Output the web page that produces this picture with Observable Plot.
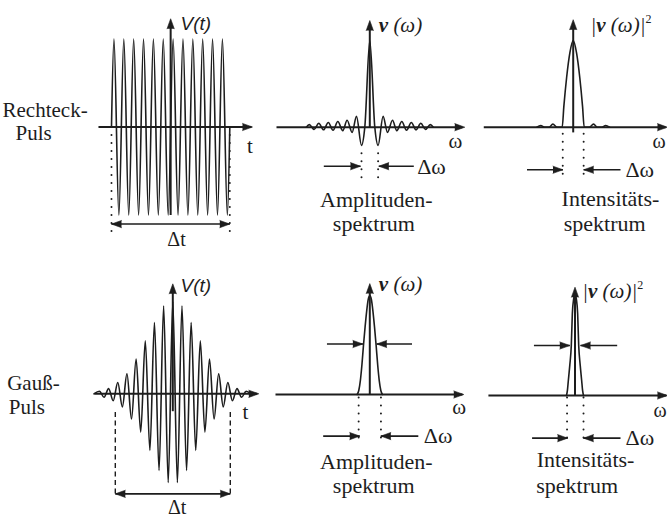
<!DOCTYPE html>
<html><head><meta charset="utf-8">
<script src="https://cdn.jsdelivr.net/npm/d3@7"></script>
<script src="https://cdn.jsdelivr.net/npm/@observablehq/plot@0.6"></script>
<style>
html,body{margin:0;padding:0;background:#fff;}
#chart{position:relative;width:667px;height:518px;overflow:hidden;background:#fff;}
#chart svg{position:absolute;left:0;top:0;}
#chart svg text.serif{font-family:"Liberation Serif","DejaVu Serif",serif;}
#chart svg text.sans{font-family:"Liberation Sans","DejaVu Sans",sans-serif;}
</style></head><body><div id="chart"></div>
<script>
// ---- data ----
// Rechteck-Puls: extrema of the carrier (t in carrier periods), amplitude
const rectT = [-6, -5.75, -5.25, -4.75, -4.25, -3.75, -3.25, -2.75, -2.25, -1.75, -1.25, -0.75, -0.25, 0.25, 0.75, 1.25, 1.75, 2.25, 2.75, 3.25, 3.75, 4.25, 4.75, 5.25, 5.75, 6];
const rectV = [0, 1, -1, 1, -1, 1, -1, 1, -1, 1, -1, 1, -1, 1, -1, 1, -1, 1, -1, 1, -1, 1, -1, 1, -1, 0];
// Gauß-Puls: extrema of the carrier
const gaussT = [-8.6, -8, -7.5, -7, -6.5, -6, -5.5, -5, -4.5, -4, -3.5, -3, -2.5, -2, -1.5, -1, -0.5, 0, 0.5, 1, 1.5, 2, 2.5, 3, 3.5, 4, 4.5, 5, 5.5, 6, 6.5, 7, 7.5, 8, 8.5];
const gaussV = [0, 0.03, -0.04, 0.06, -0.08, 0.13, -0.15, 0.23, -0.29, 0.40, -0.44, 0.61, -0.65, 0.82, -0.88, 1.01, -1.02, 1.06, -1.02, 1.01, -0.88, 0.82, -0.65, 0.61, -0.44, 0.40, -0.29, 0.23, -0.15, 0.13, -0.08, 0.06, -0.04, 0.03, 0];
// Amplitudenspektrum of the rectangular pulse (sinc-like)
const sincW = [-12.7, -12.1, -11.15, -10.2, -9.25, -8.3, -7.35, -6.4, -5.4, -4.54, -3.54, -2.66, -1.66, -1, 0, 1, 1.66, 2.66, 3.54, 4.54, 5.4, 6.4, 7.35, 8.3, 9.25, 10.2, 11.15, 12.1, 12.7];
const sincV = [0, 0.03, -0.025, 0.045, -0.03, 0.055, -0.035, 0.065, -0.04, 0.08, -0.06, 0.125, -0.21, 0, 1, 0, -0.21, 0.125, -0.06, 0.08, -0.04, 0.065, -0.035, 0.055, -0.03, 0.045, -0.025, 0.03, 0];
// Intensitätsspektrum of the rectangular pulse
const sinc2W = [-3.3, -2.95, -2.6, -2.2, -1.85, -1.45, -1, -0.85, -0.6, -0.3, 0, 0.3, 0.6, 0.85, 1, 1.45, 1.85, 2.2, 2.6, 2.95, 3.3];
const sinc2V = [0, 0.02, 0, 0, 0.035, 0, 0, 0.24, 0.57, 0.86, 1, 0.86, 0.57, 0.24, 0, 0, 0.035, 0, 0, 0.02, 0];
// Amplitudenspektrum of the Gaussian pulse
const gspecW = [-2, -1.75, -1.5, -1.25, -1, -0.75, -0.5, -0.25, 0, 0.25, 0.5, 0.75, 1, 1.25, 1.5, 1.75, 2];
const gspecV = [0, 0.04, 0.14, 0.3, 0.5, 0.68, 0.84, 0.96, 1, 0.96, 0.84, 0.68, 0.5, 0.3, 0.14, 0.04, 0];
// Intensitätsspektrum of the Gaussian pulse
const gintW = [-2.3, -2.05, -1.8, -1.4, -1, -0.72, -0.35, 0, 0.35, 0.72, 1, 1.4, 1.8, 2.05, 2.3];
const gintV = [0, 0.05, 0.147, 0.3, 0.49, 0.8, 0.95, 1, 0.95, 0.8, 0.49, 0.3, 0.147, 0.05, 0];

const rowLabels = [["Rechteck-", "Puls"], ["Gauß-", "Puls"]];
const spectrumLabels = [["Amplituden-", "spektrum"], ["Intensitäts-", "spektrum"]];

// ---- helpers ----
const INK = "#1d1d1d";
const chart = document.getElementById("chart");
const zip = (xs, ys) => xs.map((x, i) => ({x, y: ys[i]}));

function seg(x1, y1, x2, y2, o = {}) {
  return Plot.link([{x1, y1, x2, y2}], {x1: "x1", y1: "y1", x2: "x2", y2: "y2", stroke: INK, strokeWidth: 1.6, ...o});
}
function head(x, y, rot, o = {}) {
  return Plot.vector([{x, y}], {x: "x", y: "y", rotate: rot, length: 10, r: 3.6, shape: "spike", anchor: "end", fill: INK, stroke: INK, strokeWidth: 0.6, ...o});
}
function label(x, y, text, o = {}) {
  const {cls = "serif", ...rest} = o;
  return Plot.text([{x, y, text}], {x: "x", y: "y", text: "text", fontSize: 22, fill: INK, className: cls, ...rest});
}
function dotted(x, y1, y2) {
  return seg(x, y1, x, y2, {strokeWidth: 2, strokeDasharray: "0,8", strokeLinecap: "round"});
}
function curve(xs, ys) {
  return Plot.line(zip(xs, ys), {x: "x", y: "y", curve: "monotone-x", stroke: INK, strokeWidth: 1.6});
}
function panel(xr, yr, marks) {
  const svg = Plot.plot({
    width: 667, height: 518, margin: 0,
    x: {domain: [0, 1], range: xr, axis: null},
    y: {domain: [0, 1], range: yr, axis: null},
    style: {background: "transparent", overflow: "visible"},
    marks
  });
  svg.querySelectorAll("g[aria-label='text']").forEach(g => {
    const cls = g.getAttribute("class") || "";
    const fam = cls.includes("sans") ? "sans" : "serif";
    g.removeAttribute("font-family");
    g.querySelectorAll("text").forEach(t => {
      t.classList.add(fam);
      if (t.textContent === "v (ω)") t.innerHTML = '<tspan font-weight="bold">v</tspan> (ω)';
      if (t.textContent === "|v (ω)|2") t.innerHTML = '|<tspan font-weight="bold">v</tspan> (ω)|<tspan dy="-9" font-size="12" font-style="normal">2</tspan>';
    });
  });
  chart.append(svg);
}
const ax = {strokeWidth: 2};

// ---- Panel 1: Rechteck-Puls, V(t) ----
panel([170.15, 180.01], [126.5, 38.5], [
  seg(-7.32, 0, 8.2, 0, ax), head(8.3, 0, 90),
  seg(0, -1, 0, 1.15, ax), head(0, 1.23, 0),
  curve(rectT, rectV),
  dotted(-6, 0, -1.21), dotted(6, 0, -1.21),
  seg(-6, -1.103, 6, -1.103), head(-6, -1.103, 270), head(6, -1.103, 90),
  label(-17.05, 0.19, rowLabels[0][0], {textAnchor: "start", fontSize: 21}),
  label(-15.74, -0.07, rowLabels[0][1], {textAnchor: "start", fontSize: 21}),
  label(1.0, 1.17, "V(t)", {textAnchor: "start", cls: "sans", fontStyle: "italic", fontSize: 19}),
  label(8.05, -0.214, "t", {fontSize: 21}),
  label(0.59, -1.278, "Δt", {fontSize: 20})
]);

// ---- Panel 4: Gauß-Puls, V(t) ----
panel([172.3, 181.47], [393.3, 306.3], [
  seg(-8.54, 0, 9.2, 0, ax), head(9.38, 0, 90),
  seg(0, -0.2, 0, 1.2, ax), head(0, 1.264, 0),
  curve(gaussT, gaussV),
  seg(-6.27, -0.21, -6.27, -1.17, {strokeWidth: 1.4, strokeDasharray: "5,3.5"}),
  seg(6.27, -0.21, 6.27, -1.17, {strokeWidth: 1.4, strokeDasharray: "5,3.5"}),
  seg(-6.27, -1.15, 6.27, -1.15), head(-6.27, -1.15, 270), head(6.27, -1.15, 90),
  label(-18.06, 0.12, rowLabels[1][0], {textAnchor: "start", fontSize: 21}),
  label(-17.88, -0.15, rowLabels[1][1], {textAnchor: "start", fontSize: 21}),
  label(0.84, 1.235, "V(t)", {textAnchor: "start", cls: "sans", fontStyle: "italic", fontSize: 19}),
  label(7.93, -0.213, "t", {fontSize: 21}),
  label(0.48, -1.303, "Δt", {fontSize: 20})
]);

// ---- Panel 2: Amplitudenspektrum (Rechteck) ----
panel([369.3, 374.3], [126.7, 40], [
  seg(-18.66, 0, 18.5, 0, ax), head(19.0, 0, 90),
  seg(0, 0, 0, 1.15, ax), head(0, 1.23, 0),
  curve(sincW, sincV),
  dotted(-1.66, -0.3, -0.58), dotted(1.66, -0.3, -0.58),
  seg(-9.2, -0.45, -1.86, -0.45), head(-1.86, -0.45, 90),
  seg(8.8, -0.45, 1.8, -0.45), head(1.8, -0.45, 270),
  label(1.8, 1.17, "v (ω)", {textAnchor: "start", fontStyle: "italic", fontSize: 21}),
  label(17.14, -0.168, "ω", {fontSize: 21}),
  label(9.48, -0.461, "Δω", {textAnchor: "start", fontSize: 22}),
  label(1.3, -0.836, spectrumLabels[0][0], {fontSize: 22}),
  label(0.8, -1.12, spectrumLabels[0][1], {fontSize: 22})
]);

// ---- Panel 3: Intensitätsspektrum (Rechteck) ----
panel([572.7, 583.7], [126.7, 40], [
  seg(-8.13, 0, 8.4, 0, ax), head(8.57, 0, 90),
  seg(0, -0.06, 0, 1.15, ax), head(0, 1.24, 0),
  curve(sinc2W, sinc2V),
  dotted(-0.95, -0.075, -0.59), dotted(0.95, -0.075, -0.59),
  seg(-4.2, -0.491, -0.93, -0.491), head(-0.93, -0.491, 90),
  seg(4.3, -0.491, 0.95, -0.491), head(0.95, -0.491, 270),
  label(1.57, 1.178, "|v (ω)|2", {textAnchor: "start", fontStyle: "italic", fontSize: 21}),
  label(7.8, -0.168, "ω", {fontSize: 20}),
  label(4.75, -0.491, "Δω", {textAnchor: "start", fontSize: 22}),
  label(3.39, -0.826, spectrumLabels[1][0], {fontSize: 22}),
  label(2.86, -1.12, spectrumLabels[1][1], {fontSize: 22})
]);

// ---- Panel 5: Amplitudenspektrum (Gauß) ----
panel([369.3, 375.6], [394, 295], [
  seg(-14.97, 0, 14.7, 0, ax), head(14.92, 0, 90),
  seg(0, 0, 0, 1.05, ax), head(0, 1.12, 0),
  curve(gspecW, gspecV),
  seg(-6.8, 0.51, -1.1, 0.51), head(-1.1, 0.51, 90),
  seg(6.7, 0.51, 1.1, 0.51), head(1.1, 0.51, 270),
  dotted(-1.77, -0.03, -0.5), dotted(1.77, -0.03, -0.5),
  seg(-7.4, -0.42, -1.6, -0.42), head(-1.6, -0.42, 90),
  seg(7.7, -0.42, 1.75, -0.42), head(1.75, -0.42, 270),
  label(1.43, 1.115, "v (ω)", {textAnchor: "start", fontStyle: "italic", fontSize: 21}),
  label(14.2, -0.124, "ω", {fontSize: 21}),
  label(8.57, -0.422, "Δω", {textAnchor: "start", fontSize: 22}),
  label(1.03, -0.68, spectrumLabels[0][0], {fontSize: 22}),
  label(0.63, -0.925, spectrumLabels[0][1], {fontSize: 22})
]);

// ---- Panel 6: Intensitätsspektrum (Gauß) ----
panel([574.5, 578.2], [395, 293], [
  seg(-23.4, 0, 24.7, 0, ax), head(25, 0, 90),
  seg(0, 0, 0, 1.0, ax), head(0, 1.062, 0),
  curve(gintW, gintV),
  seg(-11.1, 0.49, -1.4, 0.49), head(-1.4, 0.49, 90),
  seg(11.4, 0.49, 1.49, 0.49), head(1.49, 0.49, 270),
  dotted(-2.15, -0.02, -0.49), dotted(2.3, -0.02, -0.49),
  seg(-11.6, -0.418, -2.0, -0.418), head(-2.0, -0.418, 90),
  seg(12.3, -0.418, 2.3, -0.418), head(2.3, -0.418, 270),
  label(1.95, 1.024, "|v (ω)|2", {textAnchor: "start", fontStyle: "italic", fontSize: 21}),
  label(23.0, -0.152, "ω", {fontSize: 20}),
  label(13.65, -0.418, "Δω", {textAnchor: "start", fontSize: 22}),
  label(2.84, -0.635, spectrumLabels[1][0], {fontSize: 22}),
  label(0.6, -0.89, spectrumLabels[1][1], {fontSize: 22})
]);
</script></body></html>
